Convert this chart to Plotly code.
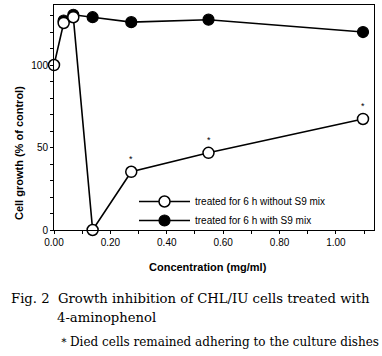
import plotly.graph_objects as go

# Data
conc_without = [0.0, 0.0343, 0.0685, 0.137, 0.274, 0.548, 1.096]
growth_without = [100, 125.5, 129, 0, 35.3, 46.8, 67.3]
died_flag = ["", "", "", "", "*", "*", "*"]

conc_with = [0.0343, 0.0685, 0.137, 0.274, 0.548, 1.096]
growth_with = [127, 130.5, 129, 126, 127.5, 120]

x_ticks = [0.0, 0.2, 0.4, 0.6, 0.8, 1.0]
x_ticklabels = ["0.00", "0.20", "0.40", "0.60", "0.80", "1.00"]
y_ticks = [0, 50, 100]

W, H = 382, 356
L, R, T, B = 54, 8, 5, 126
PW, PH = W - L - R, H - T - B


def px(xp):
    return (xp - L) / PW


def py(yp):
    return (H - B - yp) / PH


sans = "Liberation Sans, Arial, Helvetica, sans-serif"
serif = "DejaVu Serif, serif"

fig = go.Figure()
fig.add_trace(go.Scatter(
    x=conc_with, y=growth_with, mode="lines+markers",
    name="treated for 6 h with S9 mix",
    line=dict(color="black", width=1.6),
    marker=dict(symbol="circle", size=11, color="black", line=dict(color="black", width=1.2)),
    cliponaxis=False, legendrank=2,
))
fig.add_trace(go.Scatter(
    x=conc_without, y=growth_without, mode="lines+markers",
    name="treated for 6 h without S9 mix",
    line=dict(color="black", width=1.6),
    marker=dict(symbol="circle", size=11, color="white", line=dict(color="black", width=1.5)),
    cliponaxis=False, legendrank=1,
))

annotations = []
for xv, yv, t in zip(conc_without, growth_without, died_flag):
    if t:
        annotations.append(dict(x=xv, y=yv, xref="x", yref="y", text=t, showarrow=False,
                                yshift=13, font=dict(family=sans, size=9, color="black")))

annotations += [
    dict(x=px(208), y=py(267), xref="paper", yref="paper", text="<b>Concentration (mg/ml)</b>",
         showarrow=False, xanchor="center", yanchor="middle",
         font=dict(family=sans, size=11, color="black")),
    dict(x=px(19), y=py(153), xref="paper", yref="paper", text="<b>Cell growth (% of control)</b>",
         showarrow=False, textangle=-90, xanchor="center", yanchor="middle",
         font=dict(family=sans, size=11, color="black")),
    dict(x=px(9), y=py(298), xref="paper", yref="paper",
         text="Fig. 2  Growth inhibition of CHL/IU cells treated with",
         showarrow=False, xanchor="left", yanchor="middle",
         font=dict(family=serif, size=13.2, color="black")),
    dict(x=px(55), y=py(317), xref="paper", yref="paper", text="4-aminophenol",
         showarrow=False, xanchor="left", yanchor="middle",
         font=dict(family=serif, size=13.2, color="black")),
    dict(x=px(56), y=py(342), xref="paper", yref="paper",
         text="＊Died cells remained adhering to the culture dishes",
         showarrow=False, xanchor="left", yanchor="middle",
         font=dict(family=serif, size=12, color="black")),
]

fig.update_layout(
    width=W, height=H,
    margin=dict(l=L, r=R, t=T, b=B, pad=0),
    paper_bgcolor="white", plot_bgcolor="white",
    showlegend=True,
    legend=dict(x=px(134), y=py(187), xanchor="left", yanchor="top",
                bgcolor="rgba(0,0,0,0)", font=dict(family=sans, size=10, color="black"),
                itemwidth=51, tracegroupgap=0),
    annotations=annotations,
    font=dict(family=sans, size=10, color="black"),
)
fig.update_xaxes(
    range=[0, 1.135], tickvals=x_ticks, ticktext=x_ticklabels,
    showline=True, linecolor="black", linewidth=1, mirror=True,
    ticks="outside", ticklen=3, tickcolor="black", tickwidth=1,
    minor=dict(dtick=0.1, tick0=0, ticks="outside", ticklen=3, tickcolor="black"),
    showgrid=False, zeroline=False,
    tickfont=dict(family=sans, size=10, color="black"),
)
fig.update_yaxes(
    range=[0, 136.4], tickvals=y_ticks,
    showline=True, linecolor="black", linewidth=1, mirror=True,
    ticks="outside", ticklen=3, tickcolor="black", tickwidth=1,
    minor=dict(dtick=10, tick0=0, ticks="outside", ticklen=3, tickcolor="black"),
    showgrid=False, zeroline=False,
    tickfont=dict(family=sans, size=10, color="black"),
)

fig.write_html("out.html", config={"displayModeBar": False},
               post_script="document.body.style.margin='0px';")
